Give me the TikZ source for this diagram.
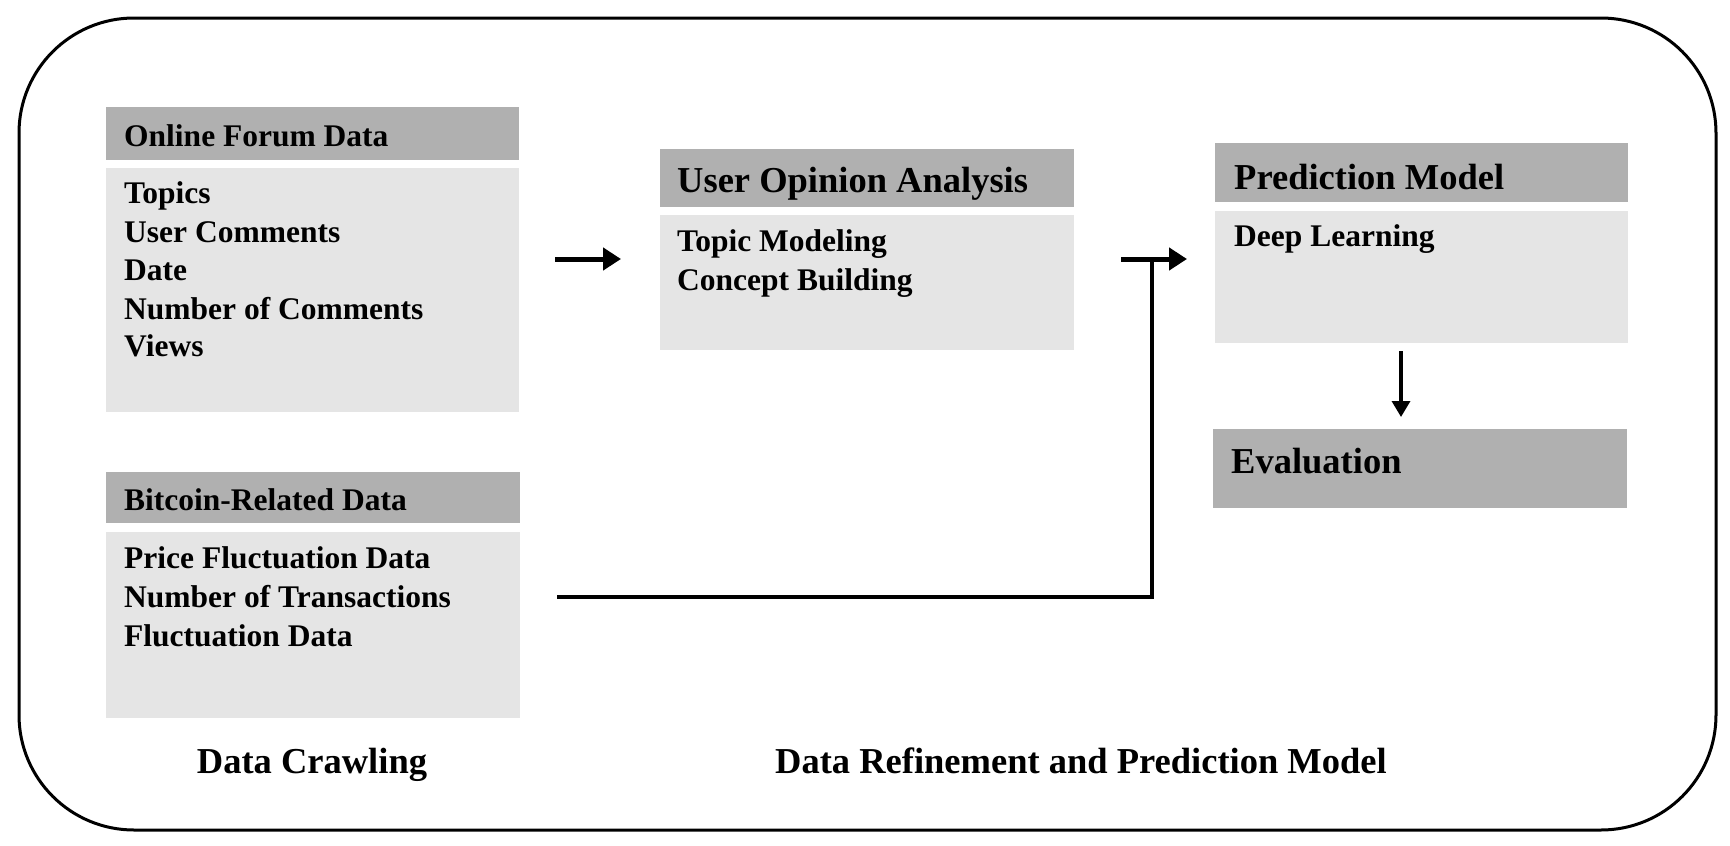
\documentclass[tikz,border=0pt]{standalone}
\usepackage{fontspec}
\setmainfont{Liberation Serif}
\usetikzlibrary{arrows.meta}
\begin{document}
\begin{tikzpicture}[x=1pt,y=-1pt,
  hdr/.style={fill=black!31, draw=none, anchor=north west, inner sep=0pt},
  bdy/.style={fill=black!10, draw=none, anchor=north west, inner sep=0pt},
  sm/.style={anchor=base west, inner sep=0pt, font=\fontsize{31.5}{38}\selectfont\bfseries},
  lg/.style={anchor=base west, inner sep=0pt, font=\fontsize{36.5}{44}\selectfont\bfseries},
  arr/.style={line width=5pt, -{Triangle[length=18pt,width=22pt]}},
  thinarr/.style={line width=3.5pt, -{Triangle[length=16pt,width=18pt]}},
  conn/.style={line width=4.5pt},
]
\useasboundingbox (0,0) rectangle (1730,846);
\draw[line width=3pt, rounded corners=115pt] (19,18) rectangle (1716,830);

% boxes
\node[hdr, minimum width=413pt, minimum height=53pt] (ofh) at (106,107) {};
\node[bdy, minimum width=413pt, minimum height=244pt] (ofb) at (106,168) {};
\node[hdr, minimum width=414pt, minimum height=51pt] (bth) at (106,472) {};
\node[bdy, minimum width=414pt, minimum height=186pt] (btb) at (106,532) {};
\node[hdr, minimum width=414pt, minimum height=58pt] (uoh) at (660,149) {};
\node[bdy, minimum width=414pt, minimum height=135pt] (uob) at (660,215) {};
\node[hdr, minimum width=413pt, minimum height=59pt] (pmh) at (1215,143) {};
\node[bdy, minimum width=413pt, minimum height=132pt] (pmb) at (1215,211) {};
\node[hdr, minimum width=414pt, minimum height=79pt] (ev) at (1213,429) {};

% texts
\node[sm] (t1) at (124,146) {Online Forum Data};
\node[sm] (t2) at (124,203) {Topics};
\node[sm] (t3) at (124,242) {User Comments};
\node[sm] (t4) at (124,280) {Date};
\node[sm] (t5) at (124,319) {Number of Comments};
\node[sm] (t6) at (124,356) {Views};
\node[sm] (t7) at (124,510) {Bitcoin-Related Data};
\node[sm] (t8) at (124,568) {Price Fluctuation Data};
\node[sm] (t9) at (124,607) {Number of Transactions};
\node[sm] (t10) at (124,646) {Fluctuation Data};
\node[lg] (t11) at (677,192) {User Opinion Analysis};
\node[sm] (t12) at (677,251) {Topic Modeling};
\node[sm] (t13) at (677,290) {Concept Building};
\node[lg] (t14) at (1234,189) {Prediction Model};
\node[sm] (t15) at (1234,246) {Deep Learning};
\node[lg] (t16) at (1231,473) {Evaluation};
\node[lg, anchor=base] (t17) at (312,773) {Data Crawling};
\node[lg, anchor=base] (t18) at (1081,773) {Data Refinement and Prediction Model};

% connectors
\coordinate (a1s) at (555,259);
\coordinate (a1e) at (621,259);
\draw[arr] (a1s) -- (a1e);
\coordinate (a2s) at (1401,351);
\coordinate (a2e) at (1401,417);
\draw[thinarr] (a2s) -- (a2e);
\coordinate (e1) at (557,597);
\coordinate (e2) at (1152,597);
\coordinate (e3) at (1152,259);
\draw[conn, line join=miter] (e1) -- (e2) -- (e3);
\coordinate (a3s) at (1121,259);
\coordinate (a3e) at (1187,259);
\draw[arr] (a3s) -- (a3e);
\end{tikzpicture}
\end{document}
